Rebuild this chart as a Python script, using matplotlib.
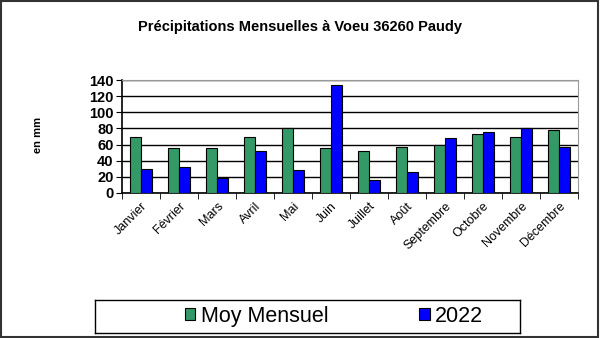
import matplotlib
matplotlib.use("Agg")
import matplotlib.pyplot as plt
from matplotlib.patches import Rectangle
import numpy as np

plt.rcParams['font.family'] = ['Liberation Sans', 'DejaVu Sans']

months = ["Janvier", "Février", "Mars", "Avril", "Mai", "Juin", "Juillet",
          "Août", "Septembre", "Octobre", "Novembre", "Décembre"]
moy_mensuel = [70, 56, 56, 70, 80, 56, 52, 57, 60, 73, 70, 78]
values_2022 = [30, 32, 19, 52, 28, 134, 16, 26, 68, 75, 80, 57]
yticks = [0, 20, 40, 60, 80, 100, 120, 140]

fig = plt.figure(figsize=(6.0, 3.38), dpi=100)
fig.patches.append(Rectangle((0.002, 0.003), 0.995, 0.994, transform=fig.transFigure,
                             fill=False, edgecolor='#333333', linewidth=1.5))

ax = fig.add_axes([122/600, 1-193/338, (578-122)/600, (193-80)/338])
x = np.arange(len(months))
w = 0.29
ax.bar(x - w/2, moy_mensuel, w, color='#339966', edgecolor='black', linewidth=0.8,
       label='Moy Mensuel', zorder=3)
ax.bar(x + w/2, values_2022, w, color='#0000FF', edgecolor='black', linewidth=0.8,
       label='2022', zorder=3)

ax.set_xlim(-0.5, len(months) - 0.5)
ax.set_ylim(0, 140)
ax.set_yticks(yticks)
ax.set_yticklabels([str(v) for v in yticks], fontsize=10.5, fontweight='bold')
ax.yaxis.grid(True, color='black', linewidth=1.0, zorder=0)
ax.set_axisbelow(True)

ax.set_xticks(x)
ax.set_xticklabels(months, rotation=45, ha='right', rotation_mode='anchor', fontsize=9)
ax.tick_params(axis='x', length=0, pad=5)
ax.set_xticks(np.arange(-0.5, len(months), 1), minor=True)
ax.tick_params(axis='x', which='minor', length=4, direction='out', color='black')
ax.tick_params(axis='y', length=4, direction='out', pad=2)

for s in ['top', 'right']:
    ax.spines[s].set_color('#999999')
for s in ['left', 'bottom']:
    ax.spines[s].set_color('black')
    ax.spines[s].set_linewidth(1.2)

fig.text(0.5, 1-27/338, "Précipitations Mensuelles à Voeu 36260 Paudy",
         ha='center', va='center', fontsize=10.5, fontweight='bold')
fig.text(38/600, 1-135/338, "en mm", rotation=90, ha='center', va='center',
         fontsize=8, fontweight='bold')

leg_ax = fig.add_axes([95/600, 1-333/338, (520-95)/600, (333-300)/338])
leg_ax.set_xticks([]); leg_ax.set_yticks([])
for s in leg_ax.spines.values():
    s.set_color('black'); s.set_linewidth(1.0)
h, l = ax.get_legend_handles_labels()
leg_ax.legend(h, l, loc='center', bbox_to_anchor=(0.562, 0.5), ncol=2, frameon=False,
              fontsize=15.5, handlelength=0.5, handleheight=0.5, handletextpad=0.25,
              columnspacing=4.2, borderpad=0)

fig.savefig("out.png", dpi=100)
